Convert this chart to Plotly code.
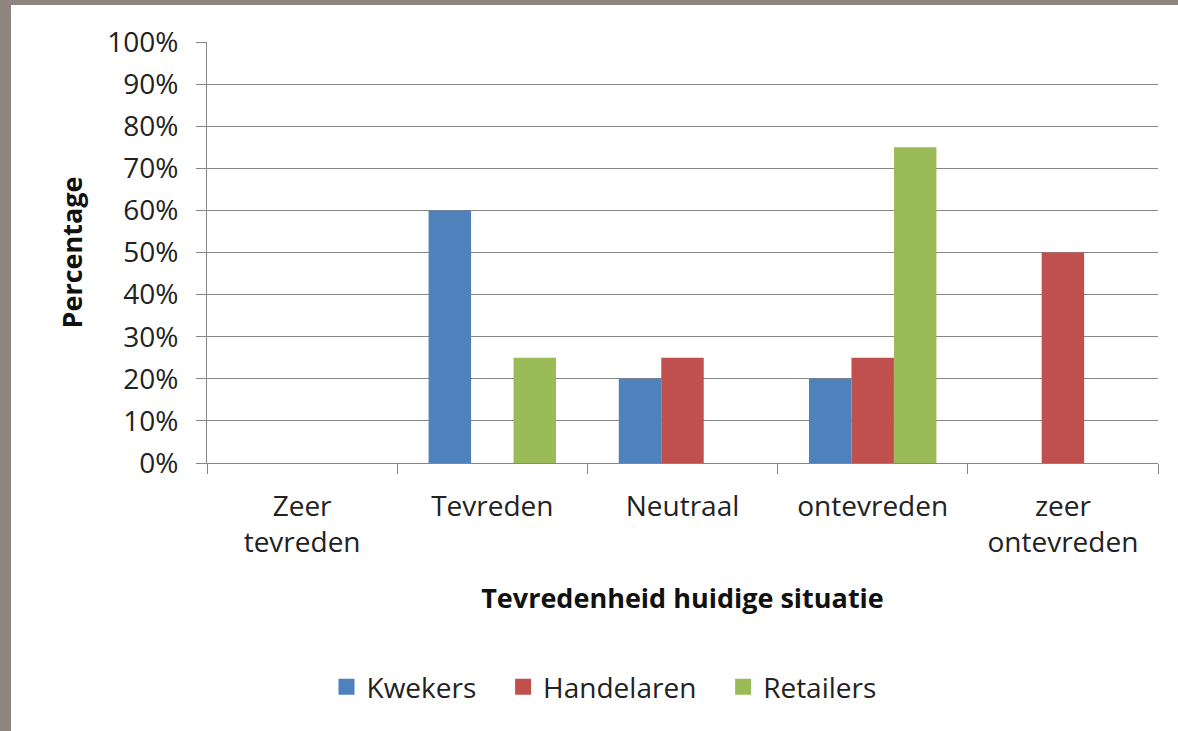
import plotly.graph_objects as go

categories = ["Zeer<br>tevreden", "Tevreden", "Neutraal", "ontevreden", "zeer<br>ontevreden"]
kwekers = [0, 60, 20, 20, 0]
handelaren = [0, 0, 25, 25, 50]
retailers = [0, 25, 0, 75, 0]
series_names = ["Kwekers", "Handelaren", "Retailers"]
colors = ["#4f81bd", "#c0504d", "#9bbb59"]
y_ticks = list(range(0, 101, 10))
y_labels = [f"{v}%" for v in y_ticks]

FONT = "'Open Sans', sans-serif"
FS = 28
TFS = 27

fig = go.Figure()
for name, vals, col in zip(series_names, [kwekers, handelaren, retailers], colors):
    fig.add_trace(go.Bar(x=categories, y=vals, name=name, showlegend=False,
                         marker=dict(color=col, line=dict(width=0))))
# legend entries with larger square swatches
pad = "\u00a0\u00a0\u00a0"
legend_labels = [series_names[0] + pad, series_names[1] + pad, series_names[2]]
for name, col in zip(legend_labels, colors):
    fig.add_trace(go.Scatter(x=[None], y=[None], mode="markers", name=name,
                             marker=dict(symbol="square", size=20, color=col)))

W, H = 1178, 731
L, R, T, B = 207, 20, 42, 268
pw = W - L - R
ph = H - T - B

def px_x(p):
    return (p - L) / pw

def px_y(p):
    return 1 - (p - T) / ph

border = "#8e8581"
fig.add_shape(type="rect", xref="paper", yref="paper", x0=px_x(0), x1=px_x(11), y0=px_y(H), y1=px_y(0),
              fillcolor=border, line=dict(width=0), layer="below")
fig.add_shape(type="rect", xref="paper", yref="paper", x0=px_x(0), x1=px_x(W), y0=px_y(5), y1=px_y(0),
              fillcolor=border, line=dict(width=0), layer="below")

fig.update_layout(
    width=W, height=H,
    margin=dict(l=L, r=R, t=T, b=B),
    paper_bgcolor="white", plot_bgcolor="white",
    barmode="group", bargap=0.33, bargroupgap=0,
    font=dict(family=FONT, size=FS, color="#222222"),
    showlegend=True,
    legend=dict(orientation="h", x=px_x(604), xanchor="center", y=px_y(687), yanchor="middle",
                font=dict(size=FS, color="#222222"), itemwidth=30, traceorder="normal",
                itemsizing="trace"),
    xaxis=dict(
        showline=True, linecolor="#868686", linewidth=1,
        ticks="outside", tickson="boundaries", ticklen=10, tickcolor="#868686",
        tickfont=dict(size=FS, color="#222222"), ticklabelstandoff=18,
        title=dict(text="<b>Tevredenheid huidige situatie</b>", font=dict(size=TFS, color="#111111"), standoff=30),
        showgrid=False,
    ),
    yaxis=dict(
        range=[0, 100], tickvals=y_ticks, ticktext=y_labels,
        showline=True, linecolor="#868686", linewidth=1,
        ticks="outside", ticklen=10, tickcolor="#868686", ticklabelstandoff=12,
        showgrid=True, gridcolor="#868686", gridwidth=1,
        tickfont=dict(size=FS, color="#222222"),
        title=dict(text="<b>Percentage</b>", font=dict(size=TFS, color="#111111"), standoff=16),
        zeroline=False,
    ),
)

fig.write_html("out.html", config={"displayModeBar": False},
               post_script="document.body.style.margin='0';document.body.style.padding='0';")
